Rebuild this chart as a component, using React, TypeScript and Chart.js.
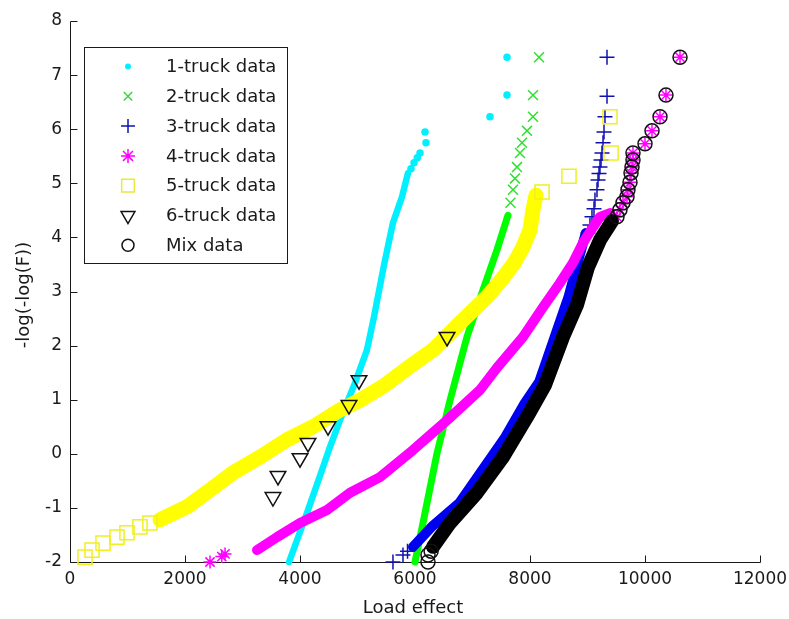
import React, { useEffect, useRef } from 'react';
import { Chart, registerables } from 'chart.js';

Chart.register(...registerables);

// ---------- axis ticks ----------
const xTicks = [0, 2000, 4000, 6000, 8000, 10000, 12000];
const yTicks = [-2, -1, 0, 1, 2, 3, 4, 5, 6, 7, 8];

const seriesNames = ['1-truck data', '2-truck data', '3-truck data', '4-truck data', '5-truck data', '6-truck data', 'Mix data'];

// ---------- 1-truck (cyan dots) ----------
const truck1BandLoad = [3809, 4122, 4383, 4522, 4730, 4957, 5165, 5287, 5461, 5617, 5774, 5878];
const truck1BandLogF = [-2.0, -1.09, -0.3, 0.13, 0.72, 1.31, 1.92, 2.53, 3.49, 4.27, 4.75, 5.19];
const truck1MarkLoad = [5930, 5983, 6040, 6087, 6191, 6174, 7304, 7600, 7600];
const truck1MarkLogF = [5.27, 5.38, 5.47, 5.56, 5.75, 5.95, 6.23, 6.63, 7.33];

// ---------- 2-truck (green x) ----------
const truck2BandLoad = [6000, 6139, 6383, 6609, 6904, 7183, 7426, 7617];
const truck2BandLogF = [-2.0, -1.28, 0.01, 0.99, 2.16, 3.03, 3.77, 4.41];
const truck2MarkLoad = [7660, 7704, 7739, 7774, 7826, 7861, 7948, 8052, 8052, 8157];
const truck2MarkLogF = [4.64, 4.88, 5.09, 5.3, 5.56, 5.75, 5.97, 6.23, 6.63, 7.33];

// ---------- 3-truck (blue +) ----------
const truck3BandLoad = [5965, 6290, 6770, 7170, 7570, 7910, 8160, 8430, 8670, 8840, 8970];
const truck3BandLogF = [-1.72, -1.35, -0.91, -0.3, 0.31, 0.94, 1.33, 2.16, 2.9, 3.58, 4.08];
const truck3MarkLoad = [5617, 5791, 5870, 9009, 9043, 9078, 9113, 9130, 9165, 9183, 9200, 9217, 9235, 9252, 9270, 9287, 9304, 9339, 9339];
const truck3MarkLogF = [-2.0, -1.87, -1.8, 4.08, 4.23, 4.38, 4.53, 4.69, 4.88, 5.06, 5.18, 5.3, 5.43, 5.56, 5.75, 5.95, 6.23, 6.61, 7.33];

// ---------- 4-truck (magenta *) ----------
const truck4BandLoad = [3252, 3600, 4000, 4470, 4870, 5391, 5965, 6557, 7130, 7426, 7878, 8226, 8522, 8748, 8922, 9096, 9217, 9400];
const truck4BandLogF = [-1.78, -1.54, -1.28, -1.04, -0.72, -0.43, 0.07, 0.62, 1.18, 1.59, 2.16, 2.71, 3.16, 3.53, 3.9, 4.19, 4.38, 4.45];
const truck4MarkLoad = [2435, 2640, 2696, 9513, 9565, 9617, 9687, 9704, 9739, 9757, 9774, 9791, 9791, 10000, 10122, 10261, 10365, 10609];
const truck4MarkLogF = [-2.0, -1.9, -1.85, 4.38, 4.51, 4.64, 4.75, 4.88, 5.02, 5.19, 5.3, 5.43, 5.56, 5.73, 5.97, 6.23, 6.63, 7.33];

// ---------- 5-truck (yellow squares) ----------
const truck5BandLoad = [1565, 2035, 2435, 2835, 3304, 3774, 4226, 4696, 5043, 5478, 5826, 6313, 6783, 7252, 7530, 7739, 7878, 8000, 8052, 8104];
const truck5BandLogF = [-1.22, -0.98, -0.67, -0.35, -0.06, 0.26, 0.5, 0.81, 0.99, 1.27, 1.55, 1.92, 2.42, 2.9, 3.25, 3.55, 3.82, 4.14, 4.51, 4.78];
const truck5MarkLoad = [261, 383, 574, 817, 991, 1217, 1390, 8209, 8678, 9409, 9391];
const truck5MarkLogF = [-1.91, -1.78, -1.65, -1.54, -1.46, -1.35, -1.28, 4.84, 5.13, 5.56, 6.23];

// ---------- 6-truck (black triangles) ----------
const truck6Load = [3530, 3617, 4000, 4139, 4487, 4852, 5026, 6557];
const truck6LogF = [-0.8, -0.41, -0.08, 0.2, 0.51, 0.9, 1.36, 2.16];

// ---------- Mix (black circles) ----------
const mixBandLoad = [6313, 6609, 7078, 7530, 7948, 8261, 8574, 8817, 9009, 9217, 9426];
const mixBandLogF = [-1.72, -1.28, -0.72, -0.06, 0.68, 1.27, 2.16, 2.75, 3.45, 3.95, 4.3];
const mixMarkLoad = [6226, 6226, 6280, 9513, 9565, 9617, 9687, 9704, 9739, 9757, 9774, 9791, 9791, 10000, 10122, 10261, 10365, 10609];
const mixMarkLogF = [-2.0, -1.87, -1.8, 4.38, 4.51, 4.64, 4.75, 4.88, 5.02, 5.19, 5.3, 5.43, 5.56, 5.73, 5.97, 6.23, 6.63, 7.33];

const CYAN = '#00f0ff';
const GREEN = '#00ff00';
const BLUE = '#0000f0';
const BLUE_MARK = '#1010b0';
const MAGENTA = '#ff00ff';
const YELLOW = '#ffff00';
const BLACK = '#000000';

const pts = (xs: number[], ys: number[]) => xs.map((x, i) => ({ x, y: ys[i] }));

function band(xs: number[], ys: number[], color: string, width: number, order: number) {
  return {
    type: 'scatter' as const,
    data: pts(xs, ys),
    showLine: true,
    borderColor: color,
    borderWidth: width,
    borderJoinStyle: 'round',
    borderCapStyle: 'round',
    pointRadius: 0,
    pointHoverRadius: 0,
    tension: 0,
    fill: false,
    clip: false,
    order,
  };
}

function marks(xs: number[], ys: number[], style: string, color: string, r: number, order: number, fillColor = 'rgba(0,0,0,0)', rotation = 0) {
  return {
    type: 'scatter' as const,
    data: pts(xs, ys),
    showLine: false,
    pointStyle: style,
    pointRadius: r,
    pointHoverRadius: r,
    pointBorderColor: color,
    pointBackgroundColor: fillColor,
    pointBorderWidth: 1.5,
    pointRotation: rotation,
    clip: false,
    order,
  };
}

type LegendItem = { style: string; color: string; r: number; fill?: string };
const legendItems: LegendItem[] = [
  { style: 'dot', color: CYAN, r: 3, fill: CYAN },
  { style: 'crossRot', color: '#40d040', r: 6 },
  { style: 'cross', color: BLUE_MARK, r: 7 },
  { style: 'star', color: MAGENTA, r: 7 },
  { style: 'rect', color: '#e8e840', r: 9 },
  { style: 'triangleDown', color: '#111', r: 8 },
  { style: 'circle', color: '#111', r: 6 },
];

function drawMarker(ctx: CanvasRenderingContext2D, it: LegendItem, x: number, y: number) {
  const r = it.r;
  ctx.save();
  ctx.strokeStyle = it.color;
  ctx.lineWidth = 1.5;
  ctx.beginPath();
  if (it.style === 'dot') {
    ctx.fillStyle = it.fill || it.color;
    ctx.arc(x, y, r, 0, Math.PI * 2);
    ctx.fill();
  } else if (it.style === 'circle') {
    ctx.arc(x, y, r, 0, Math.PI * 2);
    ctx.stroke();
  } else if (it.style === 'cross') {
    ctx.moveTo(x - r, y); ctx.lineTo(x + r, y);
    ctx.moveTo(x, y - r); ctx.lineTo(x, y + r);
    ctx.stroke();
  } else if (it.style === 'crossRot') {
    const d = r * Math.SQRT1_2;
    ctx.moveTo(x - d, y - d); ctx.lineTo(x + d, y + d);
    ctx.moveTo(x - d, y + d); ctx.lineTo(x + d, y - d);
    ctx.stroke();
  } else if (it.style === 'star') {
    const d = r * Math.SQRT1_2;
    ctx.moveTo(x - r, y); ctx.lineTo(x + r, y);
    ctx.moveTo(x, y - r); ctx.lineTo(x, y + r);
    ctx.moveTo(x - d, y - d); ctx.lineTo(x + d, y + d);
    ctx.moveTo(x - d, y + d); ctx.lineTo(x + d, y - d);
    ctx.stroke();
  } else if (it.style === 'rect') {
    const s = r * Math.SQRT1_2;
    ctx.rect(x - s, y - s, 2 * s, 2 * s);
    ctx.stroke();
  } else if (it.style === 'triangleDown') {
    const h = r * Math.sin(Math.PI / 3);
    ctx.moveTo(x, y + r);
    ctx.lineTo(x - h, y - r / 2);
    ctx.lineTo(x + h, y - r / 2);
    ctx.closePath();
    ctx.stroke();
  }
  ctx.restore();
}

const decorPlugin = {
  id: 'matlabDecor',
  beforeDatasetsDraw(chart: any) {
    const { ctx, chartArea, scales } = chart;
    const left = Math.round(chartArea.left) + 0.5;
    const bottom = Math.round(chartArea.bottom) + 0.5;
    const top = Math.round(chartArea.top) + 0.5;
    const right = Math.round(chartArea.right) + 0.5;
    ctx.save();
    ctx.strokeStyle = '#1a1a1a';
    ctx.lineWidth = 1;
    ctx.beginPath();
    ctx.moveTo(left, top);
    ctx.lineTo(left, bottom);
    ctx.lineTo(right, bottom);
    for (const v of xTicks) {
      const px = Math.round(scales.x.getPixelForValue(v)) + 0.5;
      ctx.moveTo(px, bottom);
      ctx.lineTo(px, bottom - 7);
    }
    for (const v of yTicks) {
      const py = Math.round(scales.y.getPixelForValue(v)) + 0.5;
      ctx.moveTo(left, py);
      ctx.lineTo(left + 7, py);
    }
    ctx.stroke();
    ctx.restore();
  },
  afterDraw(chart: any) {
    const { ctx } = chart;
    ctx.save();
    // axis titles
    ctx.fillStyle = '#1a1a1a';
    ctx.font = '18px "DejaVu Sans"';
    ctx.textAlign = 'center';
    ctx.textBaseline = 'alphabetic';
    ctx.fillText('Load effect', 413, 613);
    ctx.save();
    ctx.translate(28.5, 295);
    ctx.rotate(-Math.PI / 2);
    ctx.fillText('-log(-log(F))', 0, 0);
    ctx.restore();

    // legend box
    const bx = 84.5, by = 47.5, bw = 203, bh = 216;
    ctx.fillStyle = '#ffffff';
    ctx.fillRect(bx, by, bw, bh);
    ctx.strokeStyle = '#1a1a1a';
    ctx.lineWidth = 1;
    ctx.strokeRect(bx, by, bw, bh);
    ctx.textAlign = 'left';
    ctx.textBaseline = 'middle';
    ctx.font = '18px "DejaVu Sans"';
    for (let i = 0; i < seriesNames.length; i++) {
      const y = 66.5 + i * 29.8;
      drawMarker(ctx, legendItems[i], 128, y);
      ctx.fillStyle = '#1a1a1a';
      ctx.fillText(seriesNames[i], 166, y + 1);
    }
    ctx.restore();
  },
};

export default function App() {
  const canvasRef = useRef<HTMLCanvasElement | null>(null);

  useEffect(() => {
    document.body.style.margin = '0';
    const canvas = canvasRef.current;
    if (!canvas) return;

    const datasets: any[] = [
      band(truck1BandLoad, truck1BandLogF, CYAN, 6.5, 13),
      marks(truck1MarkLoad, truck1MarkLogF, 'circle', CYAN, 3, 12, CYAN),
      band(truck2BandLoad, truck2BandLogF, GREEN, 7, 11),
      marks(truck2MarkLoad, truck2MarkLogF, 'crossRot', '#30e030', 7, 10),
      band(truck3BandLoad, truck3BandLogF, BLUE, 10, 9),
      marks(truck3MarkLoad, truck3MarkLogF, 'cross', BLUE_MARK, 7.5, 8),
      band(truck4BandLoad, truck4BandLogF, MAGENTA, 10, 7),
      marks(truck4MarkLoad, truck4MarkLogF, 'star', MAGENTA, 6.5, 6),
      band(truck5BandLoad, truck5BandLogF, YELLOW, 15, 5),
      marks(truck5MarkLoad, truck5MarkLogF, 'rect', '#f0f020', 10, 4),
      marks(truck6Load, truck6LogF, 'triangle', '#111111', 9, 3, 'rgba(0,0,0,0)', 180),
      band(mixBandLoad, mixBandLogF, BLACK, 14, 2),
      marks(mixMarkLoad, mixMarkLogF, 'circle', '#111111', 7, 1),
    ];

    const tickFont = { family: 'DejaVu Sans', size: 17 };

    const chart = new Chart(canvas, {
      type: 'scatter',
      data: { datasets },
      options: {
        responsive: false,
        animation: false,
        events: [],
        layout: { padding: { top: 21, right: 29, left: 0, bottom: 0 } },
        plugins: { legend: { display: false }, tooltip: { enabled: false } },
        scales: {
          x: {
            type: 'linear',
            min: 0,
            max: 12000,
            afterBuildTicks: (s: any) => { s.ticks = xTicks.map((v) => ({ value: v })); },
            afterFit: (s: any) => { s.height = 57; s.paddingLeft = 0; s.paddingRight = 0; },
            ticks: {
              callback: (v: any) => String(v),
              font: tickFont,
              color: '#1a1a1a',
              padding: 7,
              maxRotation: 0,
              autoSkip: false,
            },
            grid: { display: false, drawTicks: false },
            border: { display: false },
          },
          y: {
            type: 'linear',
            min: -2,
            max: 8,
            afterBuildTicks: (s: any) => { s.ticks = yTicks.map((v) => ({ value: v })); },
            afterFit: (s: any) => { s.width = 70; s.paddingTop = 0; s.paddingBottom = 0; },
            ticks: {
              callback: (v: any) => String(v),
              font: tickFont,
              color: '#1a1a1a',
              padding: 8,
              autoSkip: false,
            },
            grid: { display: false, drawTicks: false },
            border: { display: false },
          },
        },
      } as any,
      plugins: [decorPlugin as any],
    });

    return () => chart.destroy();
  }, []);

  return (
    <div style={{ width: 789, height: 619, background: '#fff' }}>
      <canvas ref={canvasRef} width={789} height={619} style={{ display: 'block' }} />
    </div>
  );
}
